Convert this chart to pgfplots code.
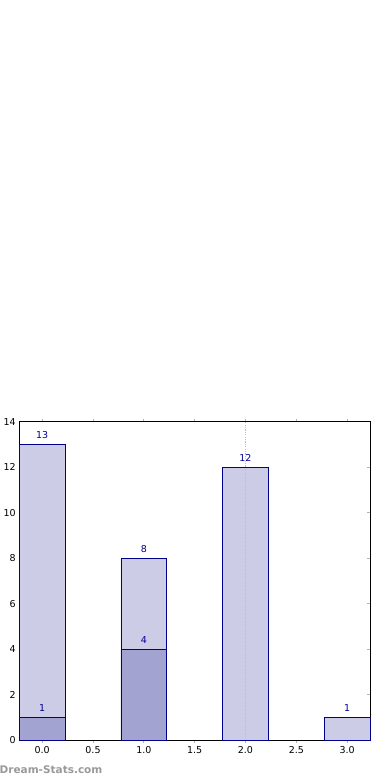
\documentclass[border=0pt]{standalone}
\usepackage{pgfplots}
\pgfplotsset{compat=1.18}
\usepackage{fontspec}
\setmainfont{DejaVu Sans}
\definecolor{lightbar}{RGB}{204,204,230}
\definecolor{darkbar}{RGB}{163,163,209}
\definecolor{edge}{RGB}{0,0,139}
\definecolor{lab}{RGB}{0,0,150}
\begin{document}
\begin{tikzpicture}
\path[use as bounding box] (0,0) rectangle (390pt,780pt);
\begin{axis}[
  at={(19.3pt,39.7pt)}, anchor=south west,
  scale only axis, width=350.7pt, height=318.6pt,
  xmin=-0.225, xmax=3.225, ymin=0, ymax=14,
  /pgf/number format/assume math mode=true,
  xtick={0,0.5,1,1.5,2,2.5,3}, ytick={0,2,4,6,8,10,12,14},
  xticklabel style={/pgf/number format/.cd, fixed, fixed zerofill, precision=1},
  xtick pos=both, ytick pos=both,
  tick align=inside, major tick length=3pt,
  tick style={gray!60, line width=0.8pt},
  axis line style={black, line width=0.8pt},
  tick label style={font=\fontsize{9.5}{11}\selectfont},
  ybar, bar width=0.45, bar shift=0pt,
  nodes near coords style={font=\fontsize{9.5}{11}\selectfont, text=lab, yshift=2pt},
  clip=false,
]
\addplot[fill=lightbar, draw=edge, line width=0.8pt, nodes near coords] coordinates {(0,13) (1,8) (2,12) (3,1)};
\addplot[fill=darkbar, draw=edge, line width=0.8pt, nodes near coords] coordinates {(0,1) (1,4)};
\addplot[sharp plot, gray!50, line width=1pt, dash pattern=on 1.2pt off 1.2pt] coordinates {(2,0) (2,14)};
\end{axis}
\node[anchor=base west, inner sep=0pt, text=gray!80, font=\bfseries\fontsize{10.5}{12}\selectfont] at (-0.5pt,6.7pt) {Dream-Stats.com};
\end{tikzpicture}
\end{document}
